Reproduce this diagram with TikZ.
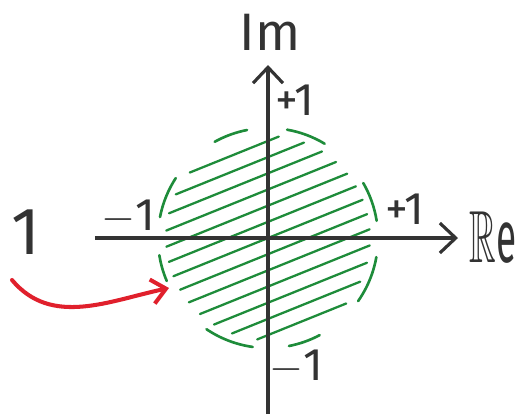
\documentclass[tikz,border=0pt]{standalone}
\usepackage{amssymb}
\usepackage{graphicx}
\usepackage{fontspec}
\setmainfont{Fira Sans}
\usetikzlibrary{arrows.meta, positioning}
\definecolor{axisgray}{HTML}{333333}
\definecolor{hatchgreen}{HTML}{1E8C3A}
\definecolor{markred}{HTML}{E0202C}

\begin{document}
\begin{tikzpicture}[
    x=0.02cm, y=0.02cm,
    axis/.style={draw=axisgray, line width=1.8pt, -{Straight Barb[length=9pt, width=17pt, line width=1.8pt]}},
    rim/.style={draw=hatchgreen, line width=1.5pt, line cap=round},
    hatch/.style={draw=hatchgreen, line width=1.3pt, line cap=round},
    pointer/.style={draw=markred, line width=2.3pt, line cap=round, -{Straight Barb[length=8pt, width=14pt, line width=2.3pt]}},
    tick/.style={text=axisgray, font=\fontsize{26}{26}\selectfont, inner sep=0pt},
    axlabel/.style={text=axisgray, font=\fontsize{30}{30}\selectfont, inner sep=0pt}
  ]
    \useasboundingbox (-268,-176) rectangle (248,238);

    % Disc
    \foreach \a/\b in {9/30, 59/80, 101/119, 147/169, 189/203, 236/262, 281/298, 325/350}
      \draw[rim] (\a:110) arc[start angle=\a, end angle=\b, radius=110];
    \foreach \d in {-90,-75,...,90} {
      \pgfmathsetmacro{\h}{sqrt(10404-\d*\d)}
      \draw[hatch, rotate=22] (-\h,\d) -- (\h,\d);
    }

    % Axes
    \coordinate (o) at (0,0);
    \coordinate (xl) at (-173,0);
    \coordinate (xr) at (190,0);
    \coordinate (yb) at (0,-176);
    \coordinate (yt) at (0,173);
    \draw[axis] (xl) -- (xr);
    \draw[axis] (yb) -- (yt);

    % Labels
    \node (im) [axlabel] at (2,206) {Im};
    \node (re) [axlabel, font=\fontsize{42}{42}\selectfont, anchor=west] at (201,0) {\scalebox{0.5}[1]{$\mathbb{R}$e}};
    \node (ptop) [tick] at (27,138) {+1};
    \node (pright) [tick] at (137,29) {+1};
    \node (mleft) [tick] at (-140,21) {$-$1};
    \node (mbottom) [tick] at (28,-129) {$-$1};
    \node (one) [text=axisgray, font=\fontsize{38}{38}\selectfont, inner sep=0pt] at (-242,6) {1};

    % Pointer
    \coordinate (ps) at (-256,-42);
    \coordinate (pe) at (-99,-50);
    \draw[pointer] (ps) to[out=-50, in=192] (pe);
\end{tikzpicture}
\end{document}
